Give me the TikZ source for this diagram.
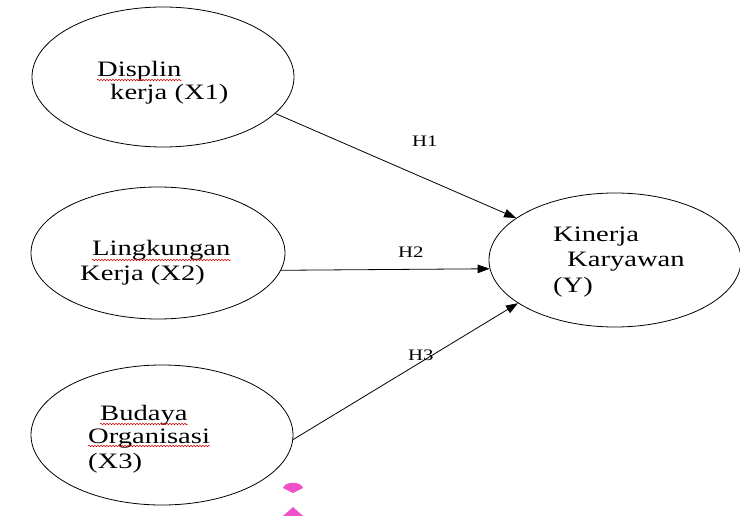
\documentclass[tikz,border=0pt]{standalone}
\usepackage{fontspec}
\usepackage{graphicx}
\setmainfont{Liberation Serif}
\usetikzlibrary{shapes.geometric,arrows.meta,decorations.pathmorphing,calc}
\newcommand{\widetxt}[1]{\scalebox{1.3}[1]{#1}}
\begin{document}
\begin{tikzpicture}[x=1pt,y=-1pt,
  latent/.style={draw, ellipse, line width=0.8pt, inner sep=0pt},
  lbl/.style={anchor=base west, inner sep=0pt, font=\fontsize{22}{26}\selectfont},
  hlbl/.style={anchor=base west, inner sep=0pt, font=\fontsize{16}{19}\selectfont},
  path/.style={line width=0.8pt, -{Triangle[length=12pt,width=8.5pt]}},
  spell/.style={draw=red!85!black, line width=0.5pt, decorate,
    decoration={snake, amplitude=0.8pt, segment length=3pt}},
  blob/.style={fill={rgb,255:red,240;green,80;blue,200}, draw=none}]
\useasboundingbox (0,0) rectangle (740,516);
\fill[white] (0,0) rectangle (740,516);

% ellipses
\node[latent, minimum width=262pt, minimum height=140pt] (x1) at (163,77) {};
\node[latent, minimum width=254pt, minimum height=132pt] (x2) at (158,253) {};
\node[latent, minimum width=262pt, minimum height=140pt] (x3) at (162,435) {};
\node[latent, minimum width=252pt, minimum height=134pt] (y) at (615,260) {};

% texts
\node[lbl] (t1a) at (97,77) {\widetxt{Displin}};
\node[lbl] (t1b) at (110,100) {\widetxt{kerja (X1)}};
\node[lbl] (t2a) at (92,255) {\widetxt{Lingkungan}};
\node[lbl] (t2b) at (80,280) {\widetxt{Kerja (X2)}};
\node[lbl] (t3a) at (100,420) {\widetxt{Budaya}};
\node[lbl] (t3b) at (88,443) {\widetxt{Organisasi}};
\node[lbl] (t3c) at (88,468) {\widetxt{(X3)}};
\node[lbl] (ya) at (553,242) {\widetxt{Kinerja}};
\node[lbl] (yb) at (567,266) {\widetxt{Karyawan}};
\node[lbl] (yc) at (553,292) {\widetxt{(Y)}};

% spell-check squiggles
\draw[spell] ($(t1a.base west)+(0,3)$) -- ($(t1a.base east)+(0,3)$);
\draw[spell] ($(t2a.base west)+(0,5)$) -- ($(t2a.base east)+(0,5)$);
\draw[spell] ($(t3a.base west)+(0,4)$) -- ($(t3a.base east)+(0,4)$);
\draw[spell] ($(t3b.base west)+(0,3)$) -- ($(t3b.base east)+(0,3)$);

% paths
\draw[path] (x1.-18) -- (y.157);
\draw[path] (x2.-8.6) -- (y.184.5);
\draw[path] (x3.-2) -- (y.204.8);

% hypothesis labels
\node[hlbl] (h1) at (412,147) {\widetxt{H1}};
\node[hlbl] (h2) at (398,258) {\widetxt{H2}};
\node[hlbl] (h3) at (408,360) {\widetxt{H3}};

% pink marks
\path[blob] (283,488) .. controls (285,481) and (301,481) .. (303,488) -- (293,493) -- cycle;
\path[blob] (283,516) -- (293,507) -- (303,516) -- cycle;
\end{tikzpicture}
\end{document}
